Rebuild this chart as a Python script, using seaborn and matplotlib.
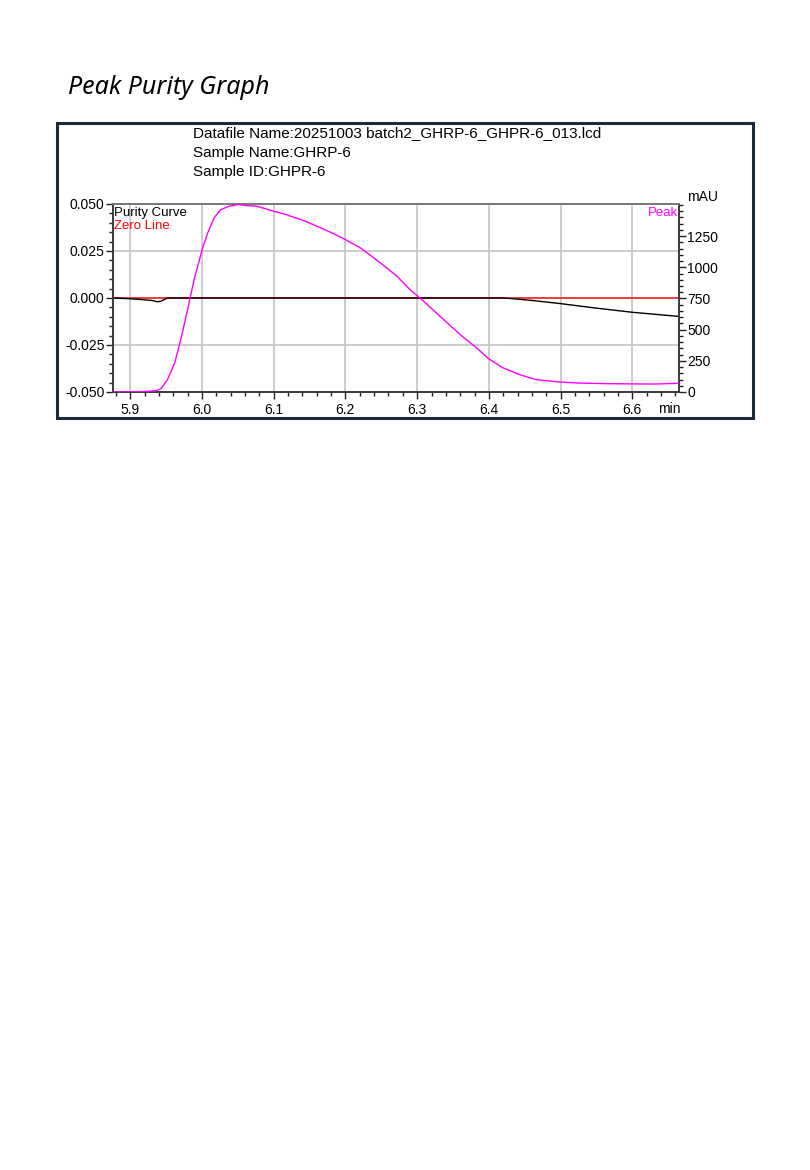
import numpy as np
import pandas as pd
import matplotlib
matplotlib.use("Agg")
import matplotlib.pyplot as plt
from matplotlib.patches import Rectangle
from matplotlib.ticker import MultipleLocator, FixedLocator
import seaborn as sns

# ---------------- data ----------------
peak_time = [5.876, 5.915, 5.936, 5.943, 5.952, 5.962, 5.971, 5.980, 5.989, 6.001,
             6.008, 6.017, 6.026, 6.038, 6.050, 6.063, 6.077, 6.100, 6.114, 6.142,
             6.165, 6.186, 6.200, 6.221, 6.249, 6.272, 6.290, 6.309, 6.337, 6.360,
             6.383, 6.400, 6.420, 6.443, 6.466, 6.499, 6.530, 6.563, 6.600, 6.632,
             6.665]
peak_mau = [0, 3, 10, 27, 99, 233, 433, 661, 901, 1156,
            1276, 1397, 1463, 1490, 1503, 1495, 1490, 1450, 1429, 1375,
            1318, 1263, 1222, 1156, 1035, 928, 821, 728, 580, 460,
            353, 265, 193, 139, 99, 80, 71, 67, 65, 64,
            70]

purity_time = [5.876, 5.900, 5.915, 5.930, 5.938, 5.943, 5.948, 5.952, 6.000, 6.200,
               6.420, 6.440, 6.460, 6.500, 6.550, 6.600, 6.665]
purity_val = [0.0, -0.0004, -0.0008, -0.0013, -0.0020, -0.0017, -0.0007, 0.0, 0.0, 0.0,
              0.0, -0.0006, -0.0013, -0.0030, -0.0054, -0.0076, -0.0098]

zero_time = [5.876, 6.665]
zero_val = [0.0, 0.0]

x_ticks = [5.9, 6.0, 6.1, 6.2, 6.3, 6.4, 6.5, 6.6]
left_ticks = [-0.050, -0.025, 0.000, 0.025, 0.050]
right_ticks = [0, 250, 500, 750, 1000, 1250]

header_lines = ["Datafile Name:20251003 batch2_GHRP-6_GHPR-6_013.lcd",
                "Sample Name:GHRP-6",
                "Sample ID:GHPR-6"]

# ---------------- figure ----------------
sns.set_theme(style="white")
plt.rcParams['font.family'] = ['Liberation Sans', 'DejaVu Sans']

W, H = 810, 1170
fig = plt.figure(figsize=(W / 100, H / 100), dpi=100)
fig.patch.set_facecolor("white")

def fx(px):
    return px / W

def fy(py):
    return 1 - py / H

# outer frame
fig.patches.append(Rectangle((fx(57), fy(418)), fx(753) - fx(57), fy(123) - fy(418),
                             transform=fig.transFigure, fill=False,
                             edgecolor="#1b2b3b", linewidth=2.2, zorder=0))

# title
fig.text(fx(68), fy(88), "Peak Purity Graph", fontsize=18, style="italic",
         family=["Noto Sans", "DejaVu Sans"], va="center", ha="left", color="black")

for i, line in enumerate(header_lines):
    fig.text(fx(193), fy(133 + 19.5 * i), line, fontsize=11, va="center", ha="left",
             color="black")

ax = fig.add_axes([fx(113), fy(392), fx(679) - fx(113), (392 - 204) / H])
ax2 = ax.twinx()

df_pur = pd.DataFrame({"t": purity_time, "v": purity_val})
df_zero = pd.DataFrame({"t": zero_time, "v": zero_val})
df_peak = pd.DataFrame({"t": peak_time, "v": peak_mau})

sns.lineplot(data=df_zero, x="t", y="v", ax=ax, color="#ff2020", linewidth=1.2,
             sort=False, estimator=None, zorder=3)
sns.lineplot(data=df_pur, x="t", y="v", ax=ax, color="black", linewidth=1.0,
             sort=False, estimator=None, zorder=4)
sns.lineplot(data=df_peak, x="t", y="v", ax=ax2, color="#ff00ff", linewidth=1.0,
             sort=False, estimator=None, zorder=5)

ax.set_xlim(5.876, 6.665)
ax.set_ylim(-0.050, 0.050)
ax2.set_ylim(0, 1508)

ax.set_xlabel("")
ax.set_ylabel("")
ax2.set_ylabel("")

ax.xaxis.set_major_locator(FixedLocator(x_ticks))
ax.xaxis.set_minor_locator(MultipleLocator(0.02))
ax.set_xticklabels([f"{v:.1f}" for v in x_ticks])
ax.yaxis.set_major_locator(FixedLocator(left_ticks))
ax.yaxis.set_minor_locator(MultipleLocator(0.005))
ax.set_yticklabels([f"{v:.3f}" for v in left_ticks])
ax2.yaxis.set_major_locator(FixedLocator(right_ticks))
ax2.yaxis.set_minor_locator(MultipleLocator(50))
ax2.set_yticklabels([str(v) for v in right_ticks])

ax.grid(True, which="major", color="#c8c8c8", linewidth=1.3)
ax.set_axisbelow(True)
ax2.grid(False)

for a in (ax, ax2):
    for s in a.spines.values():
        s.set_color("#3a3a3a")
        s.set_linewidth(1.2)
ax.spines["top"].set_color("#777777")
ax2.spines["top"].set_color("#777777")

ax.tick_params(axis="both", which="major", direction="out", length=5, width=1,
               color="#222222", labelsize=10, pad=1, labelcolor="black")
ax.tick_params(axis="x", which="major", pad=3)
ax.tick_params(axis="both", which="minor", direction="out", length=3, width=1,
               color="#222222")
ax.tick_params(axis="x", which="both", bottom=True)
ax.tick_params(axis="y", which="both", left=True)
ax2.tick_params(axis="y", which="major", direction="out", length=5, width=1,
                color="#222222", labelsize=10, pad=1, labelcolor="black", right=True)
ax2.tick_params(axis="y", which="minor", direction="out", length=3, width=1,
                color="#222222", right=True)

# legend-like labels
ax.text(0.002, 0.985, "Purity Curve", transform=ax.transAxes, fontsize=9.5,
        color="black", va="top", ha="left")
ax.text(0.002, 0.915, "Zero Line", transform=ax.transAxes, fontsize=9.5,
        color="#ff0000", va="top", ha="left")
ax.text(0.998, 0.985, "Peak", transform=ax.transAxes, fontsize=9.5,
        color="#ff00ff", va="top", ha="right")
fig.text(fx(703), fy(197), "mAU", fontsize=10, va="center", ha="center", color="black")
fig.text(fx(669), fy(409), "min", fontsize=10, va="center", ha="center", color="black")

fig.savefig("out.png", dpi=100, facecolor="white")
